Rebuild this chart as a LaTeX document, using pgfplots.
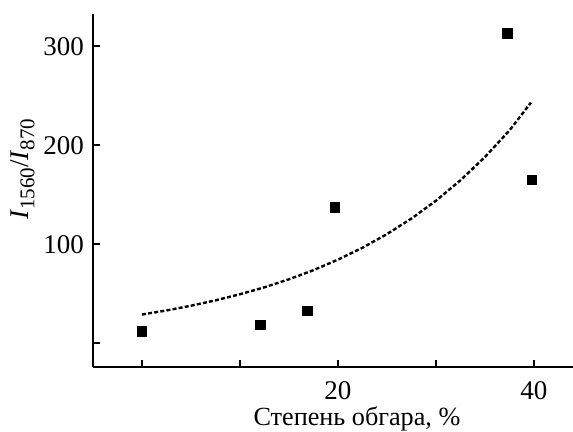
\documentclass[border=0pt]{standalone}
\usepackage{fontspec}
\setmainfont{Liberation Serif}
\usepackage{pgfplots}
\pgfplotsset{compat=1.18}
\newcommand{\sub}[1]{\raisebox{-0.45ex}{\fontsize{10.5}{12}\selectfont #1}}

\begin{document}
\fontsize{13}{15}\selectfont
\begin{tikzpicture}
  \begin{axis}[
      scale only axis,
      width=240pt, height=176.5pt,
      axis lines=left,
      axis line style={-, line width=1pt},
      xmin=-5, xmax=44, ymin=-24, ymax=332.6,
      xtick={0,10,20,30,40}, xticklabels={,,20,,40},
      ytick={0,100,200,300}, yticklabels={,100,200,300},
      tick style={black, line width=1pt},
      major tick length=3.5pt,
      tick align=inside,
      /pgf/number format/assume math mode=true,
      ticklabel style={font=\fontsize{13.5}{15}\selectfont},
      xticklabel style={yshift=-2.8pt},
      xlabel={Степень обгара, \%},
      xlabel style={at={(axis description cs:0.55,0)}, anchor=north, inner sep=0pt, yshift=-19.5pt, font=\fontsize{13.1}{15}\selectfont},
      ylabel={\textit{I}\sub{1560}/\textit{I}\sub{870}},
      ylabel style={at={(axis description cs:-0.121,0.56)}, anchor=south, inner sep=0pt, font=\fontsize{13.5}{15}\selectfont},
      clip=false,
    ]
    % exponential fit
    \addplot[black, line width=1.2pt, dash pattern=on 2pt off 1.1pt] coordinates {
      (0,29) (2.5,33.1) (5,37.9) (7.5,43.3) (10,49.5) (12.5,56.5) (15,64.6)
      (17.5,73.8) (20,84.4) (22.5,96.4) (25,110.2) (27.5,125.9) (30,143.9)
      (32.5,164.5) (35,188.0) (37.5,214.8) (39.7,243)
    };
    % measured points
    \addplot[only marks, mark=square*, mark size=2.4pt, black] coordinates {
      (0,11.7) (12.1,18.5) (16.9,32.6) (19.7,137) (37.3,313) (39.8,165)
    };
    \coordinate (bl) at (rel axis cs:0,0);
    \coordinate (tr) at (rel axis cs:1,1);
  \end{axis}
  \pgfresetboundingbox
  \path[use as bounding box] ([xshift=-46.5pt,yshift=-32.5pt]bl) rectangle ([yshift=7pt]tr);
\end{tikzpicture}
\end{document}
